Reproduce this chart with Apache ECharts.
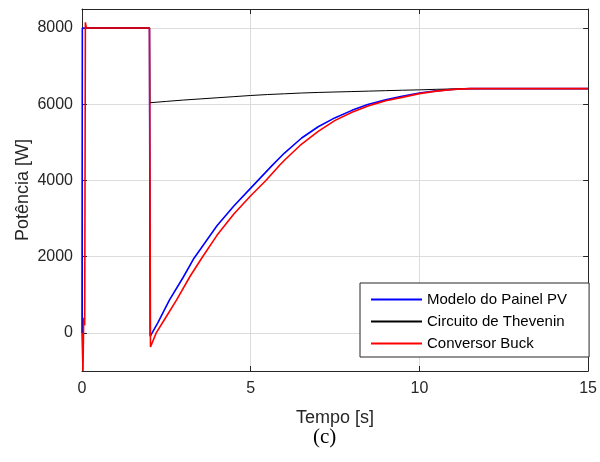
<!DOCTYPE html>
<html>
<head>
<meta charset="utf-8">
<script src="https://cdn.jsdelivr.net/npm/echarts@6/dist/echarts.min.js"></script>
<style>
  html, body { margin: 0; padding: 0; background: #fff; }
  #chart { width: 600px; height: 462px; }
</style>
</head>
<body>
<div id="chart"></div>
<script>
// [tempo (s), potência (W)]
const painelPV = [
  [0, 0], [0.01, 8000], [2, 8000], [2.02, -90], [2.25, 270], [2.59, 860],
  [3.0, 1460], [3.32, 1960], [4.0, 2810], [4.5, 3330], [5.0, 3800],
  [5.63, 4390], [6.0, 4720], [6.51, 5115], [7.0, 5410], [7.49, 5642],
  [8.0, 5840], [8.47, 5992], [9.0, 6115], [9.45, 6205], [10, 6295],
  [10.5, 6352], [10.9, 6385], [11.2, 6402], [11.5, 6410], [15, 6410]
];
const thevenin = [
  [0.1, 8000], [2, 8000], [2.01, 6040], [2.5, 6075], [3, 6110], [3.5, 6140],
  [4, 6170], [4.5, 6200], [5, 6230], [5.5, 6255], [6, 6275], [6.5, 6295],
  [7, 6310], [7.5, 6322], [8, 6333], [8.5, 6345], [9, 6357], [9.5, 6368],
  [10, 6378], [10.5, 6392], [11, 6402], [11.5, 6408], [12, 6410], [15, 6410]
];
const conversorBuck = [
  [0, 0], [0.03, -1000], [0.05, 400], [0.08, 200], [0.1, 8150], [0.13, 8000],
  [2, 8000], [2.03, -370], [2.2, 0], [2.5, 430], [2.8, 860], [3.2, 1480],
  [3.56, 1980], [4.0, 2560], [4.5, 3120], [5.0, 3600], [5.45, 4000],
  [5.87, 4413], [6.0, 4530], [6.5, 4950], [7.0, 5290], [7.49, 5571],
  [8.0, 5790], [8.5, 5960], [8.76, 6030], [9.0, 6090], [9.45, 6175],
  [10, 6280], [10.5, 6345], [11.0, 6390], [11.5, 6410], [15, 6410]
];
const yTicks = [0, 2000, 4000, 6000, 8000];

const font = 'Liberation Sans, Arial, sans-serif';
const ink = '#262626';

const chart = echarts.init(document.getElementById('chart'));

const boxAxisX = (pos, labels) => ({
  type: 'value', position: pos, min: 0, max: 15, interval: 5,
  axisLine: { show: true, onZero: false, lineStyle: { color: ink, width: 1 } },
  axisTick: { show: true, inside: true, length: 5, lineStyle: { color: ink } },
  axisLabel: { show: labels, color: ink, fontSize: 16, fontFamily: font, margin: 10,
    formatter: (v) => String(v) },
  splitLine: { show: labels, lineStyle: { color: '#dcdcdc', width: 1 } }
});
const boxAxisY = (pos, labels) => ({
  type: 'value', position: pos, min: -1000, max: 8500,
  axisLine: { show: true, onZero: false, lineStyle: { color: ink, width: 1 } },
  axisTick: { show: true, inside: true, length: 5, customValues: yTicks, lineStyle: { color: ink } },
  axisLabel: { show: labels, customValues: yTicks, color: ink, fontSize: 16, fontFamily: font, margin: 9,
    formatter: (v) => String(v) },
  splitLine: { show: labels, lineStyle: { color: '#dcdcdc', width: 1 } }
});

const xMain = boxAxisX('bottom', true);
xMain.name = 'Tempo [s]';
xMain.nameLocation = 'middle';
xMain.nameGap = 38;
xMain.nameMoveOverlap = false;
xMain.nameTextStyle = { color: ink, fontSize: 18, fontFamily: font };

const yMain = boxAxisY('left', true);
yMain.name = 'Potência [W]';
yMain.nameLocation = 'middle';
yMain.nameGap = 50;
yMain.nameMoveOverlap = false;
yMain.nameTextStyle = { color: ink, fontSize: 18, fontFamily: font };

chart.setOption({
  animation: false,
  grid: { left: 82, right: 8, top: 9, bottom: 91, containLabel: false },
  xAxis: [xMain, boxAxisX('top', false)],
  yAxis: [yMain, boxAxisY('right', false)],
  legend: {
    left: 360, top: 283, orient: 'vertical',
    backgroundColor: '#fff', borderColor: ink, borderWidth: 1,
    padding: [9, 22, 6, 10], itemGap: 7, itemWidth: 51, itemHeight: 14,
    itemStyle: { opacity: 0 },
    textStyle: { color: '#000', fontSize: 15, fontFamily: font },
    data: ['Modelo do Painel PV', 'Circuito de Thevenin', 'Conversor Buck']
  },
  graphic: [{
    type: 'text', left: 313, top: 427,
    style: { text: '(c)', fill: '#000', fontSize: 21, fontFamily: 'Liberation Serif, Times New Roman, serif' }
  }],
  series: [
    { name: 'Modelo do Painel PV', type: 'line', data: painelPV, symbol: 'none',
      lineStyle: { color: '#0000ff', width: 1.6 }, itemStyle: { color: '#0000ff' } },
    { name: 'Circuito de Thevenin', type: 'line', data: thevenin, symbol: 'none',
      lineStyle: { color: '#000000', width: 1 }, itemStyle: { color: '#000000' } },
    { name: 'Conversor Buck', type: 'line', data: conversorBuck, symbol: 'none',
      lineStyle: { color: '#ff0000', width: 1.6 }, itemStyle: { color: '#ff0000' } }
  ]
});
</script>
</body>
</html>
